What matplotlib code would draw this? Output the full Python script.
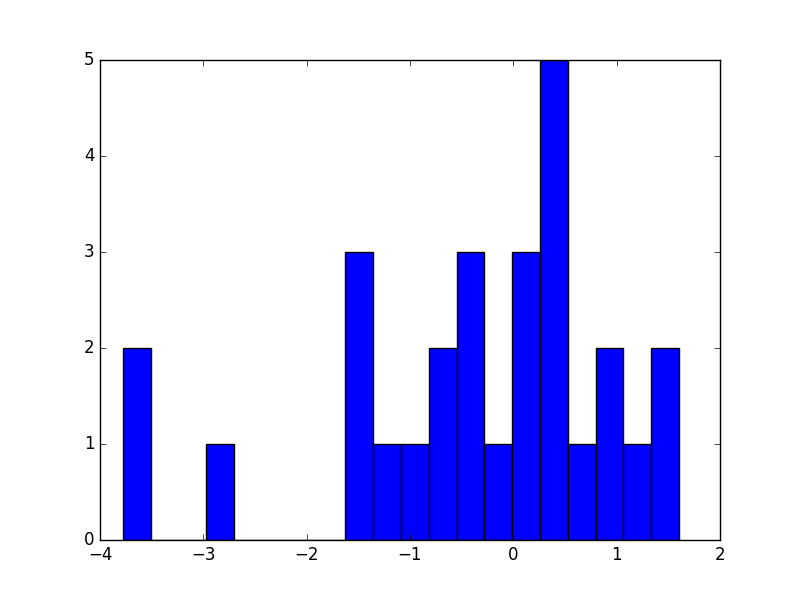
import matplotlib
import matplotlib.pyplot as plt
import numpy as np

matplotlib.use("Agg")
plt.style.use("classic")

# histogram: 20 equal bins
bin_lo = -3.777
bin_hi = 1.603
counts = [2, 0, 0, 1, 0, 0, 0, 0, 3, 1, 1, 2, 3, 1, 3, 5, 1, 2, 1, 2]

edges = np.linspace(bin_lo, bin_hi, len(counts) + 1)
centers = (edges[:-1] + edges[1:]) / 2

fig, ax = plt.subplots(figsize=(8, 6), dpi=100)
ax.hist(centers, bins=edges, weights=counts, facecolor="b", edgecolor="k")
ax.set_xlim(-4, 2)
ax.set_ylim(0, 5)

fig.savefig("out.png", dpi=100)
